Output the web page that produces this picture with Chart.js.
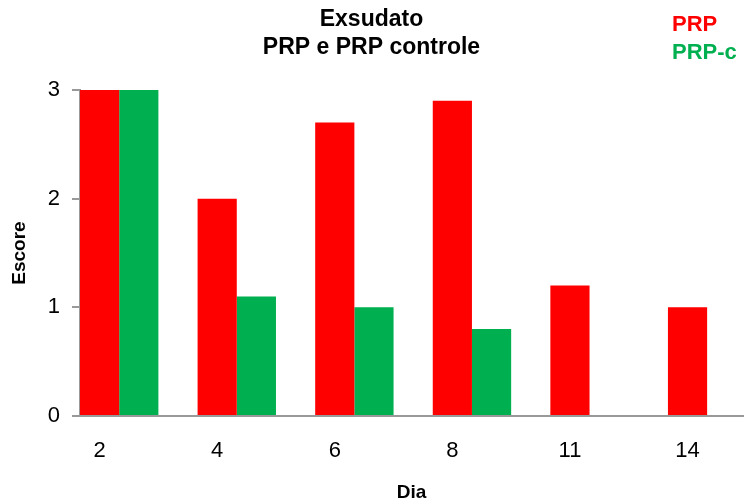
<!DOCTYPE html>
<html>
<head>
<meta charset="utf-8">
<script src="https://cdn.jsdelivr.net/npm/chart.js@4.4.0/dist/chart.umd.min.js"></script>
<style>
  html, body { margin: 0; padding: 0; background: #fff; }
  #wrap { width: 744px; height: 504px; }
</style>
</head>
<body>
<div id="wrap"><canvas id="myChart" width="744" height="504"></canvas></div>
<script>
// data
var dias = ["2", "4", "6", "8", "11", "14"];
var prp = [3.0, 2.0, 2.7, 2.9, 1.2, 1.0];
var prpC = [3.0, 1.1, 1.0, 0.8, 0, 0];
var yTicks = [0, 1, 2, 3];

var RED = '#FF0000';
var GREEN = '#00B050';
var AXIS = '#999999';

Chart.defaults.font.family = '"Liberation Sans", Arial, sans-serif';
Chart.defaults.color = '#000';

// bars sit on a linear axis at the category index, labels under the red bar
function points(arr) {
    return arr.map(function(v, i) { return { x: i, y: v }; });
}

// legend drawn as coloured text, top right
var textLegend = {
    id: 'textLegend',
    afterDraw: function(chart) {
        var ctx = chart.ctx;
        ctx.save();
        ctx.font = 'bold 22px "Liberation Sans", Arial, sans-serif';
        ctx.textAlign = 'left';
        ctx.textBaseline = 'middle';
        chart.data.datasets.forEach(function(ds, i) {
            ctx.fillStyle = ds.backgroundColor;
            ctx.fillText(ds.label, 672, 25 + i * 28);
        });
        ctx.restore();
    }
};

var ctx = document.getElementById("myChart");
var myChart = new Chart(ctx, {
    type: 'bar',
    data: {
        datasets: [
            { label: 'PRP', data: points(prp), backgroundColor: RED, borderWidth: 0 },
            { label: 'PRP-c', data: points(prpC), backgroundColor: GREEN, borderWidth: 0 }
        ]
    },
    options: {
        responsive: false,
        animation: false,
        categoryPercentage: 2 / 3,
        barPercentage: 1,
        layout: { padding: { left: 0, right: 1, top: 0, bottom: 0 } },
        plugins: {
            legend: { display: false },
            tooltip: { enabled: false },
            title: {
                display: true,
                text: ['Exsudato', 'PRP e PRP controle'],
                font: { size: 23, weight: 'bold', lineHeight: 1.2 },
                color: '#000',
                padding: { top: 6, bottom: 28.8 }
            }
        },
        scales: {
            x: {
                type: 'linear',
                offset: false,
                min: -1 / 3,
                max: 5.305,
                grid: { display: false, drawTicks: false, offset: false },
                border: { display: true, color: AXIS, width: 2 },
                afterBuildTicks: function(scale) {
                    scale.ticks = dias.map(function(d, i) { return { value: i - 1 / 6 }; });
                },
                ticks: {
                    autoSkip: false,
                    maxRotation: 0,
                    padding: 22,
                    font: { size: 22 },
                    color: '#000',
                    callback: function(value, index) { return dias[index]; }
                },
                title: {
                    display: true,
                    text: 'Dia',
                    font: { size: 19, weight: 'bold' },
                    color: '#000',
                    padding: { top: 0, bottom: 0 }
                },
                afterFit: function(scale) { scale.height = 88; }
            },
            y: {
                min: 0,
                max: 3,
                afterBuildTicks: function(scale) {
                    scale.ticks = yTicks.map(function(v) { return { value: v }; });
                },
                grid: { display: true, drawOnChartArea: false, drawTicks: true, tickLength: 8, color: AXIS, lineWidth: 2 },
                border: { display: true, color: AXIS, width: 2 },
                ticks: { padding: 12, font: { size: 22 }, color: '#000' },
                title: {
                    display: true,
                    text: 'Escore',
                    font: { size: 19, weight: 'bold' },
                    color: '#000',
                    padding: { top: 8, bottom: 0 }
                },
                afterFit: function(scale) { scale.width = 80; }
            }
        }
    },
    plugins: [textLegend]
});
</script>
</body>
</html>
